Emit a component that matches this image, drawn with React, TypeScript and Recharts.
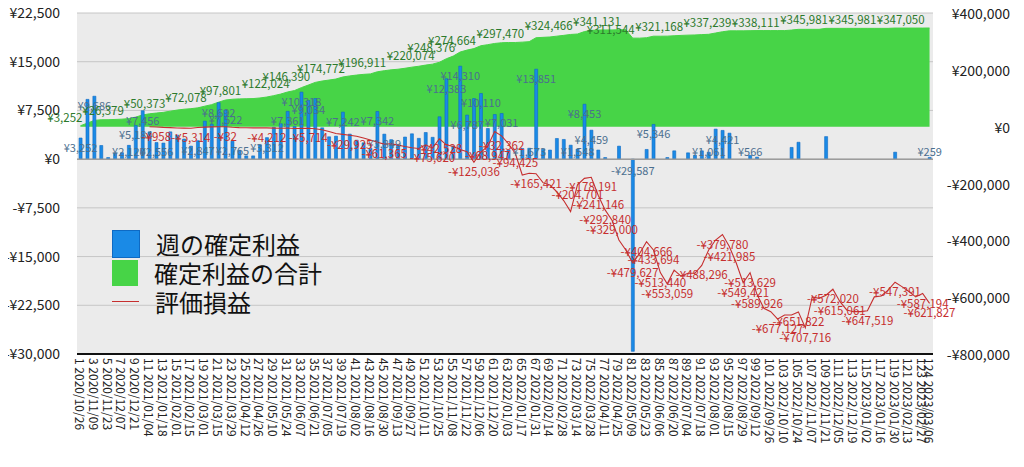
import React from 'react';
import {
  ComposedChart,
  Bar,
  Area,
  Line,
  XAxis,
  YAxis,
  CartesianGrid,
  Legend,
  LabelList,
  ReferenceLine,
} from 'recharts';

// week start dates (week no. = index + 1)
const weekDates = [
  '2020/10/26', '2020/11/02', '2020/11/09', '2020/11/16', '2020/11/23', '2020/11/30', '2020/12/07', '2020/12/14', '2020/12/21', '2020/12/28',
  '2021/01/04', '2021/01/11', '2021/01/18', '2021/01/25', '2021/02/01', '2021/02/08', '2021/02/15', '2021/02/22', '2021/03/01', '2021/03/08',
  '2021/03/15', '2021/03/22', '2021/03/29', '2021/04/05', '2021/04/12', '2021/04/19', '2021/04/26', '2021/05/03', '2021/05/10', '2021/05/17',
  '2021/05/24', '2021/05/31', '2021/06/07', '2021/06/14', '2021/06/21', '2021/06/28', '2021/07/05', '2021/07/12', '2021/07/19', '2021/07/26',
  '2021/08/02', '2021/08/09', '2021/08/16', '2021/08/23', '2021/08/30', '2021/09/06', '2021/09/13', '2021/09/20', '2021/09/27', '2021/10/04',
  '2021/10/11', '2021/10/18', '2021/10/25', '2021/11/01', '2021/11/08', '2021/11/15', '2021/11/22', '2021/11/29', '2021/12/06', '2021/12/13',
  '2021/12/20', '2021/12/27', '2022/01/03', '2022/01/10', '2022/01/17', '2022/01/24', '2022/01/31', '2022/02/07', '2022/02/14', '2022/02/21',
  '2022/02/28', '2022/03/07', '2022/03/14', '2022/03/21', '2022/03/28', '2022/04/04', '2022/04/11', '2022/04/18', '2022/04/25', '2022/05/02',
  '2022/05/09', '2022/05/16', '2022/05/23', '2022/05/30', '2022/06/06', '2022/06/13', '2022/06/20', '2022/06/27', '2022/07/04', '2022/07/11',
  '2022/07/18', '2022/07/25', '2022/08/01', '2022/08/08', '2022/08/15', '2022/08/22', '2022/08/29', '2022/09/05', '2022/09/12', '2022/09/19',
  '2022/09/26', '2022/10/03', '2022/10/10', '2022/10/17', '2022/10/24', '2022/10/31', '2022/11/07', '2022/11/14', '2022/11/21', '2022/11/28',
  '2022/12/05', '2022/12/12', '2022/12/19', '2022/12/26', '2023/01/02', '2023/01/09', '2023/01/16', '2023/01/23', '2023/01/30', '2023/02/06',
  '2023/02/13', '2023/02/20', '2023/02/27', '2023/03/06',
];

// 週の確定利益 (left axis)
const weeklyProfit = [
  3252, 9200, 9686, 2100, 250, 900, 991, 2120, 5184, 7456,
  4200, 2556, 2478, 4200, 3700, 3100, 2000, 2847, 5858, 5380,
  8692, 7522, 2765, 1364, 500, 500, 2200, 3312, 4900, 5450,
  7361, 5014, 10318, 9034, 9340, 4820, 3440, 3540, 7242, 3850,
  2920, 2510, 1668, 7342, 3849, 3000, 2200, 3400, 3900, 3200,
  4100, 3363, 6520, 12383, 2000, 14310, 6787, 9330, 10110, 4720,
  6870, 7031, 1390, 0, 1640, 1673, 13851, 1500, 1400, 3180,
  3030, 2150, 1548, 8453, 4459, 1400, 250, 0, 2000, 0,
  -29587, 0, 1490, 5346, 0, 250, 1280, 0, 970, 600,
  1280, 1061, 4620, 4421, 4000, 0, 0, 566, 306, 0,
  0, 0, 0, 1800, 2600, 0, 0, 0, 3470, 0,
  0, 0, 0, 0, 0, 0, 0, 0, 1069, 0,
  0, 0, 0, 259,
];

// 確定利益の合計 (right axis)
const totalProfit = [
  3252, 12452, 22138, 24238, 24488, 25388, 26379, 28499, 33683, 41139,
  45339, 47895, 50373, 54573, 58273, 61373, 63373, 66220, 72078, 77458,
  86150, 93672, 96437, 97801, 98301, 98801, 101001, 104313, 109213, 114663,
  122024, 127038, 137356, 146390, 155730, 160550, 163990, 167530, 174772, 178622,
  181542, 184052, 185720, 193062, 196911, 199911, 202111, 205511, 209411, 212611,
  216711, 220074, 226594, 238977, 248376, 262686, 269473, 274664, 284774, 288500,
  292800, 295300, 296200, 296200, 297470, 299143, 312994, 314300, 315600, 318500,
  321300, 324466, 326014, 334467, 338926, 340100, 340400, 340400, 341131, 341131,
  311544, 311544, 313000, 318346, 318346, 318600, 319900, 321168, 322100, 322700,
  323950, 325011, 329600, 334021, 337239, 337239, 337239, 337805, 338111, 338111,
  338111, 338111, 338111, 339900, 342500, 342500, 342500, 342500, 345981, 345981,
  345981, 345981, 345981, 345981, 345981, 345981, 345981, 345981, 347050, 347050,
  347050, 347050, 347050, 347309,
];

// 評価損益 (right axis)
const unrealized: (number | null)[] = [
  null, null, null, null, null, null, null, null, null, null,
  -500, -958, -2500, -3500, -4500, -5000, -5314, -3000, -1500, -800,
  -300, -32, -2000, -3200, -3800, -4400, -4000, -4212, -5000, -5600,
  -4800, -6200, -5900, -5714, -7500, -11000, -17000, -24000, -27000, -29925,
  -33849, -40000, -47000, -55000, -61365, -60000, -65000, -70000, -74000, -77000,
  -64000, -75620, -42528, -64000, -70000, -80000, -88000, -125036, -90000, -68947,
  -17000, -32362, -60000, -94425, -170000, -164000, -165421, -197000, -205000, -229000,
  -260000, -299000, -204701, -182000, -178191, -241146, -292840, -329000, -399000, -434000,
  -479627, -446000, -404666, -433694, -513440, -553059, -505000, -526000, -516000, -516000,
  -488296, -434000, -399000, -379780, -421985, -480000, -549421, -513629, -589926, -639000,
  -651000, -677127, -663000, -663000, -651822, -707716, -599000, -604000, -593000, -572020,
  -615061, -645000, -651000, -651000, -647519, -599000, -596000, -575000, -547391, -563000,
  -580000, -599000, -587194, -621827,
];

// weeks whose values carry a data label in the picture
const weeklyLabelWeeks = [1, 3, 8, 9, 10, 12, 18, 21, 22, 23, 28, 31, 33, 34, 39, 44, 45, 54, 56, 57, 59, 62, 64, 66, 67, 73, 74, 75, 78, 80, 81, 82, 84, 85, 88, 92, 94, 98, 101, 103, 106, 108, 110, 112, 114, 116, 118, 121, 124];
const totalLabelWeeks = [1, 7, 13, 19, 24, 31, 34, 39, 45, 52, 55, 58, 65, 72, 79, 81, 88, 95, 102, 109, 116, 123];
const unrealizedLabelWeeks = [12, 17, 22, 28, 34, 40, 45, 52, 53, 58, 60, 62, 64, 67, 73, 75, 76, 77, 78, 81, 83, 84, 85, 86, 91, 94, 95, 97, 98, 99, 102, 105, 106, 110, 111, 115, 119, 123, 124];

const leftTicks = [-30000, -22500, -15000, -7500, 0, 7500, 15000, 22500];
const rightTicks = [-800000, -600000, -400000, -200000, 0, 200000, 400000];

const seriesNames = { weekly: '週の確定利益', total: '確定利益の合計', unrealized: '評価損益' };

const BLUE = '#1a8ae6';
const GREEN = '#47d447';
const RED = '#c62f2f';
const FONT = '"Noto Sans CJK JP", "Noto Sans", sans-serif';

const data = weekDates.map((d, i) => ({
  name: `${i + 1} ${d}`,
  weekly: weeklyProfit[i],
  total: totalProfit[i],
  unrealized: unrealized[i],
  weeklyLabel: weeklyLabelWeeks.includes(i + 1) ? weeklyProfit[i] : null,
  totalLabel: totalLabelWeeks.includes(i + 1) ? totalProfit[i] : null,
  unrealizedLabel: unrealizedLabelWeeks.includes(i + 1) ? unrealized[i] : null,
}));

const xTicks = data.filter((_, i) => i % 2 === 0 || i === data.length - 1).map((d) => d.name);

const yen = (v: number) => (v < 0 ? '-¥' : '¥') + Math.abs(v).toLocaleString('en-US');

const num = (a: any, b: any) => (typeof a === 'number' ? a : b);

const BarValueLabel = (props: any) => {
  const { value } = props;
  if (value === null || value === undefined) return null;
  const vb = props.viewBox || {};
  const x = num(props.x, vb.x);
  const y = num(props.y, vb.y);
  const w = num(props.width, vb.width) || 0;
  const h = num(props.height, vb.height) || 0;
  const top = Math.min(y, y + h);
  const bottom = Math.max(y, y + h);
  const cy = value < 0 ? top + 11 : Math.min(top + 9, bottom - 8);
  return (
    <text x={x + w / 2} y={cy} textAnchor="middle" dominantBaseline="central" fontSize={11} fill="#4b6f8f" fontFamily={FONT}>
      {yen(value)}
    </text>
  );
};

const TotalLabel = (props: any) => {
  const { value } = props;
  if (value === null || value === undefined) return null;
  const vb = props.viewBox || {};
  const x = num(props.x, vb.x);
  const y = num(props.y, vb.y);
  return (
    <text x={x + 2} y={y - 9} textAnchor="end" dominantBaseline="central" fontSize={11.5} fill="#2c7a2c" fontFamily={FONT}>
      {yen(value)}
    </text>
  );
};

const UnrealizedLabel = (props: any) => {
  const { value } = props;
  if (value === null || value === undefined) return null;
  const vb = props.viewBox || {};
  const x = num(props.x, vb.x);
  const y = num(props.y, vb.y);
  return (
    <text x={x} y={y + 9} textAnchor="middle" dominantBaseline="central" fontSize={11.5} fill={RED} fontFamily={FONT}>
      {yen(value)}
    </text>
  );
};

const DateTick = ({ x, y, payload }: any) => (
  <g transform={`translate(${x},${y + 4}) rotate(90)`}>
    <text x={0} y={0} textAnchor="start" dominantBaseline="central" fontSize={12} fill="#222" fontFamily={FONT}>
      {payload.value}
    </text>
  </g>
);

const RightTick = ({ x, y, payload }: any) => (
  <text x={x + 77} y={y} textAnchor="end" dominantBaseline="central" fontSize={14} fill="#222" fontFamily={FONT}>
    {yen(payload.value)}
  </text>
);

const legendOrder = ['weekly', 'total', 'unrealized'];

const LegendBox = () => (
  <div style={{ fontFamily: FONT, fontSize: 24, color: '#111' }}>
    {legendOrder.map((key) => (
      <div key={key} style={{ display: 'flex', alignItems: 'center', height: 29 }}>
        {key === 'unrealized' ? (
          <div style={{ width: 27, height: 1.5, background: RED }} />
        ) : (
          <div
            style={{
              width: 26,
              height: 26,
              background: key === 'weekly' ? BLUE : GREEN,
              border: key === 'weekly' ? '0.5px solid #0e6ac4' : 'none',
            }}
          />
        )}
        <span style={{ marginLeft: 16, lineHeight: '29px' }}>{seriesNames[key as keyof typeof seriesNames]}</span>
      </div>
    ))}
  </div>
);

export default function App() {
  return (
    <div style={{ margin: '-8px 0 0 -8px' }}>
      <ComposedChart
        width={1024}
        height={459}
        data={data}
        margin={{ top: 13, right: 0, bottom: 0, left: 0 }}
        barCategoryGap="30%"
        style={{ fontFamily: FONT }}
      >
        <CartesianGrid yAxisId="left" vertical={false} stroke="#c6c6c6" fill="#ebebeb" />
        <XAxis
          dataKey="name"
          ticks={xTicks}
          interval={0}
          height={105}
          tickSize={0}
          tickMargin={0}
          tick={<DateTick />}
          axisLine={{ stroke: '#111', strokeWidth: 2 }}
          tickLine={false}
        />
        <YAxis
          yAxisId="left"
          width={77}
          domain={[-30000, 22500]}
          ticks={leftTicks}
          tickFormatter={yen}
          tickSize={0}
          tickMargin={17}
          axisLine={false}
          tickLine={false}
          tick={{ fontSize: 14, fill: '#222' }}
        />
        <YAxis
          yAxisId="right"
          orientation="right"
          width={91}
          domain={[-800000, 400000]}
          ticks={rightTicks}
          tickSize={0}
          tickMargin={0}
          axisLine={false}
          tickLine={false}
          tick={<RightTick />}
        />
        <ReferenceLine yAxisId="left" y={0} stroke="#9c9c9c" strokeWidth={1.5} />
        <Legend
          verticalAlign="middle"
          align="center"
          layout="vertical"
          wrapperStyle={{ left: 112, top: 229, width: 260 }}
          content={<LegendBox />}
        />
        <Area
          yAxisId="right"
          type="linear"
          dataKey="total"
          name={seriesNames.total}
          baseValue={0}
          fill={GREEN}
          fillOpacity={1}
          stroke={GREEN}
          isAnimationActive={false}
        >
          <LabelList dataKey="totalLabel" content={<TotalLabel />} />
        </Area>
        <Bar
          yAxisId="left"
          dataKey="weekly"
          name={seriesNames.weekly}
          fill={BLUE}
          stroke="#0e6ac4"
          strokeWidth={0.6}
          isAnimationActive={false}
        >
          <LabelList dataKey="weeklyLabel" content={<BarValueLabel />} />
        </Bar>
        <Line
          yAxisId="right"
          type="linear"
          dataKey="unrealized"
          name={seriesNames.unrealized}
          stroke={RED}
          strokeWidth={1.1}
          dot={false}
          activeDot={false}
          isAnimationActive={false}
        >
          <LabelList dataKey="unrealizedLabel" content={<UnrealizedLabel />} />
        </Line>
      </ComposedChart>
    </div>
  );
}
